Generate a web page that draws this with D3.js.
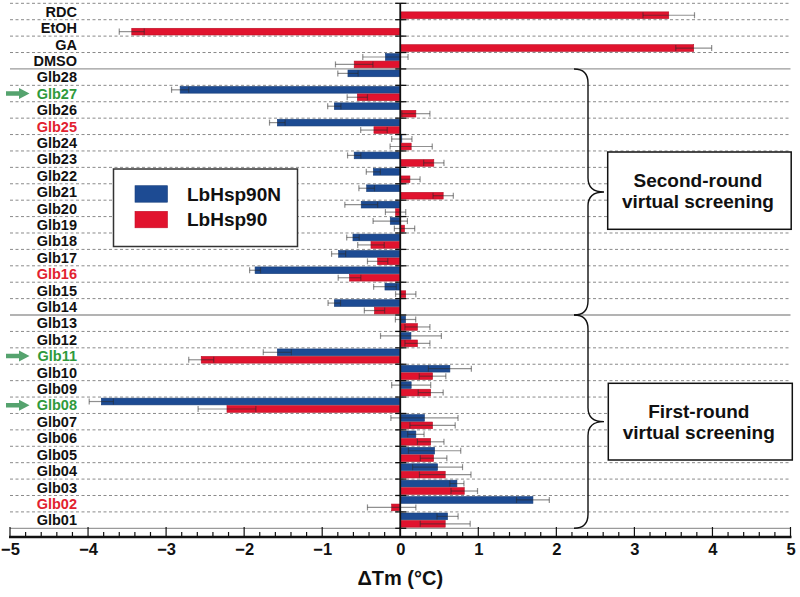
<!DOCTYPE html>
<html>
<head>
<meta charset="utf-8">
<script src="https://cdn.jsdelivr.net/npm/d3@7"></script>
<style>
  html, body { margin: 0; padding: 0; background: #ffffff; }
  svg { display: block; font-family: "Liberation Sans", Arial, sans-serif; }
</style>
</head>
<body>
<svg id="chart" width="800" height="597"></svg>
<script>
// ---------- data ----------
const categories = ["RDC","EtOH","GA","DMSO","Glb28","Glb27","Glb26","Glb25","Glb24","Glb23","Glb22","Glb21","Glb20","Glb19","Glb18","Glb17","Glb16","Glb15","Glb14","Glb13","Glb12","Glb11","Glb10","Glb09","Glb08","Glb07","Glb06","Glb05","Glb04","Glb03","Glb02","Glb01"];
const seriesNames = ["LbHsp90N","LbHsp90"];
const lbHsp90N = [null,null,null,-0.19,-0.67,-2.82,-0.845,-1.575,0.02,-0.59,-0.345,-0.43,-0.50,-0.128,-0.606,-0.79,-1.86,-0.196,-0.845,0.068,0.137,-1.575,0.636,0.14,-3.83,0.31,0.20,0.44,0.478,0.726,1.70,0.606];
const lbHsp90NErr = [null,null,null,0.29,0.13,0.11,0.085,0.10,0.13,0.085,0.09,0.10,0.21,0.22,0.08,0.09,0.07,0.145,0.08,0.13,0.39,0.18,0.275,0.25,0.155,0.43,0.105,0.335,0.32,0.09,0.21,0.135];
const lbHsp90 = [3.44,-3.44,3.76,-0.59,null,-0.55,0.20,-0.337,0.14,0.43,0.124,0.55,-0.06,0.055,-0.375,-0.29,-0.65,0.07,-0.33,0.22,0.22,-2.55,0.414,0.39,-2.22,0.414,0.39,0.427,0.576,0.82,-0.11,0.576];
const lbHsp90Err = [0.33,0.16,0.23,0.24,null,0.13,0.18,0.17,0.27,0.13,0.13,0.13,0.13,0.13,0.17,0.13,0.145,0.13,0.13,0.16,0.16,0.16,0.17,0.16,0.37,0.29,0.17,0.17,0.33,0.17,0.31,0.32];
const xTicks = [-5,-4,-3,-2,-1,0,1,2,3,4,5];
const greenLabels = ["Glb27","Glb11","Glb08"];
const redLabels = ["Glb25","Glb16","Glb02"];
const groupBreaks = ["Glb28","Glb13"];  // solid lines above these rows
const groups = [
  {from:"Glb28", to:"Glb14", lines:["Second-round","virtual screening"]},
  {from:"Glb13", to:"Glb01", lines:["First-round","virtual screening"]}
];
const xTitle = "ΔTm (°C)";

// ---------- style ----------
const BLUE = "#1d4b93", RED = "#e1132e";
const GREEN_TXT = "#2f9a3c", RED_TXT = "#e2222f", ARROW = "#55a36e";

const svg = d3.select("#chart");
svg.append("rect").attr("width",800).attr("height",597).attr("fill","#fff");

const x = d3.scaleLinear().domain([-5,5]).range([10,790.5]);
const y = d3.scaleBand().domain(categories).range([3.3,528.3]).padding(0);
const ySub = d3.scaleBand().domain(seriesNames).range([0,y.bandwidth()]).paddingInner(0.1).paddingOuter(0.15);

// grid lines (row boundaries)
const bounds = categories.map(c => y(c)).concat([y.range()[1]]);
const gGrid = svg.append("g");
bounds.forEach((b,i) => {
  const cat = categories[i];
  const solid = (i === bounds.length-1) || groupBreaks.includes(cat);
  gGrid.append("line")
    .attr("x1", x(-5)).attr("x2", x(5)).attr("y1", b).attr("y2", b)
    .attr("stroke", solid ? "#9a9a9a" : "#8a8a8a")
    .attr("stroke-width", solid ? 1.3 : 1)
    .attr("stroke-dasharray", solid ? null : "3,2.5");
});

// bars
const rows = categories.map((c,i) => ({c, n:lbHsp90N[i], ne:lbHsp90NErr[i], f:lbHsp90[i], fe:lbHsp90Err[i]}));
const barData = [];
rows.forEach(r => {
  if (r.n !== null) barData.push({c:r.c, s:"LbHsp90N", v:r.n, e:r.ne, color:BLUE});
  if (r.f !== null) barData.push({c:r.c, s:"LbHsp90", v:r.f, e:r.fe, color:RED});
});
const gBars = svg.append("g");
gBars.selectAll("rect").data(barData).join("rect")
  .attr("x", d => Math.min(x(0), x(d.v)))
  .attr("width", d => Math.abs(x(d.v) - x(0)))
  .attr("y", d => y(d.c) + ySub(d.s))
  .attr("height", ySub.bandwidth())
  .attr("fill", d => d.color)
  .attr("stroke", d => d3.color(d.color).darker(0.6))
  .attr("stroke-width", 0.6);

// error bars
const gErr = svg.append("g").attr("stroke","#2a2a2a").attr("stroke-opacity",0.52).attr("stroke-width",1.2);
barData.forEach(d => {
  const cy = y(d.c) + ySub(d.s) + ySub.bandwidth()/2;
  const h = ySub.bandwidth()*0.9;
  gErr.append("line").attr("x1", x(d.v-d.e)).attr("x2", x(d.v+d.e)).attr("y1", cy).attr("y2", cy);
  [d.v-d.e, d.v+d.e].forEach(v => {
    gErr.append("line").attr("x1", x(v)).attr("x2", x(v)).attr("y1", cy-h/2).attr("y2", cy+h/2);
  });
});

// zero line with row ticks
svg.append("line").attr("x1",x(0)).attr("x2",x(0)).attr("y1",y.range()[0]).attr("y2",537)
  .attr("stroke","#111").attr("stroke-width",1.8);
bounds.forEach(b => {
  svg.append("line").attr("x1",x(0)-5).attr("x2",x(0)+6).attr("y1",b).attr("y2",b)
    .attr("stroke","#111").attr("stroke-width",1.3);
});

// x axis
const axisY = 537;
const gx = svg.append("g").attr("transform",`translate(0,${axisY})`);
const minor = d3.range(-5, 5.0001, 0.2).map(v => Math.round(v*10)/10);
gx.selectAll("line.minor").data(minor).join("line")
  .attr("x1", d => x(d)).attr("x2", d => x(d))
  .attr("y1", 0).attr("y2", d => xTicks.includes(d) ? -10 : -5)
  .attr("stroke","#111").attr("stroke-width",1.2);
gx.append("line").attr("x1",x(-5)-1).attr("x2",x(5)+1).attr("y1",0).attr("y2",0)
  .attr("stroke","#111").attr("stroke-width",2.4);
const xAxis = d3.axisBottom(x).tickValues(xTicks).tickSize(0).tickPadding(6).tickFormat(d3.format("d"));
const gAxisLabels = svg.append("g").attr("transform",`translate(0,${axisY})`).call(xAxis);
gAxisLabels.select(".domain").remove();
gAxisLabels.selectAll("text")
  .attr("font-size",16.5).attr("font-weight","bold").attr("fill","#111")
  .attr("font-family","'Liberation Sans', Arial, sans-serif");

svg.append("text").attr("x", x(0)).attr("y", 585)
  .attr("text-anchor","middle").attr("font-size",20).attr("font-weight","bold").attr("fill","#111")
  .text(xTitle);

// category labels
const gLab = svg.append("g");
categories.forEach(c => {
  const col = greenLabels.includes(c) ? GREEN_TXT : (redLabels.includes(c) ? RED_TXT : "#111");
  gLab.append("text")
    .attr("x", 77).attr("y", y(c) + y.bandwidth()/2)
    .attr("dy","0.36em").attr("text-anchor","end")
    .attr("font-size",14.5).attr("font-weight","bold").attr("fill",col)
    .text(c);
  if (greenLabels.includes(c)) {
    const cy = y(c) + y.bandwidth()/2;
    svg.append("path")
      .attr("d", `M6,${cy-2.2} L19,${cy-2.2} L19,${cy-5.5} L29.5,${cy} L19,${cy+5.5} L19,${cy+2.2} L6,${cy+2.2} Z`)
      .attr("fill", ARROW);
  }
});

// legend
const leg = svg.append("g");
leg.append("rect").attr("x",113.5).attr("y",169).attr("width",184).attr("height",77.5)
  .attr("fill","#fff").attr("stroke","#333").attr("stroke-width",1.5);
[{n:seriesNames[0], c:BLUE, yy:185.7},{n:seriesNames[1], c:RED, yy:211.3}].forEach(d => {
  leg.append("rect").attr("x",135).attr("y",d.yy).attr("width",32.5).attr("height",16.5)
    .attr("fill",d.c).attr("stroke", d3.color(d.c).darker(0.4)).attr("stroke-width",0.6);
  leg.append("text").attr("x",187).attr("y",d.yy+8.3).attr("dy","0.36em")
    .attr("font-size",19).attr("font-weight","bold").attr("fill","#111").text(d.n);
});

// braces + boxes
function bracePath(x0, xv, tip, y0, y1, r) {
  const ym = (y0+y1)/2;
  return `M${x0},${y0} Q${xv},${y0} ${xv},${y0+r} L${xv},${ym-r} Q${xv},${ym} ${tip},${ym} ` +
         `Q${xv},${ym} ${xv},${ym+r} L${xv},${y1-r} Q${xv},${y1} ${x0},${y1}`;
}
const boxes = [{bx:607.7, by:152, bw:183.5, bh:77.3}, {bx:608.3, by:383.3, bw:184, bh:76.7}];
groups.forEach((g,i) => {
  const y0 = y(g.from), y1 = y(g.to) + y.bandwidth();
  svg.append("path").attr("d", bracePath(574, 588, 604, y0, y1, 14))
    .attr("fill","none").attr("stroke","#111").attr("stroke-width",1.4);
  const b = boxes[i];
  svg.append("rect").attr("x",b.bx).attr("y",b.by).attr("width",b.bw).attr("height",b.bh)
    .attr("fill","#fff").attr("stroke","#111").attr("stroke-width",1.5);
  g.lines.forEach((t,k) => {
    svg.append("text").attr("x", b.bx + b.bw/2 - 1.5).attr("y", b.by + b.bh/2 + (k === 0 ? -10.5 : 11))
      .attr("dy","0.36em").attr("text-anchor","middle")
      .attr("font-size",19).attr("font-weight","bold").attr("fill","#111").text(t);
  });
});
</script>
</body>
</html>
